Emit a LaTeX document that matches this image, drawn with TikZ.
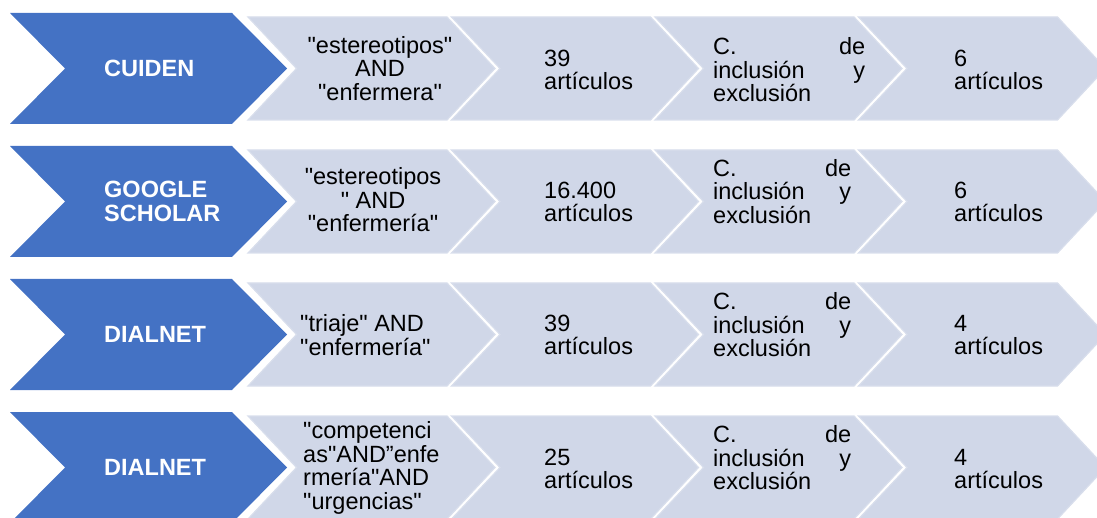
\documentclass[tikz,border=0pt]{standalone}
\usepackage{fontspec}
\newfontfamily\labelfont{Liberation Sans}
\usetikzlibrary{positioning}
\definecolor{srcblue}{HTML}{4472C4}
\definecolor{steplight}{HTML}{D0D7E8}
\definecolor{stepedge}{HTML}{D8DEEC}
\tikzset{src chevron/.style={fill=srcblue},
         step chevron/.style={fill=steplight,draw=stepedge,line width=1.2pt},
         src label/.style={anchor=west,inner sep=0pt,align=left,text=white,font=\labelfont\bfseries\fontsize{23.5}{23.5}\selectfont},
         step label/.style={anchor=west,inner sep=0pt,align=left,text=black,font=\labelfont\fontsize{23.5}{23.5}\selectfont},
         query label/.style={inner sep=0pt,align=center,text=black,font=\labelfont\fontsize{23.5}{23.5}\selectfont},
}
\begin{document}
\begin{tikzpicture}[x=1pt,y=-1pt]
\useasboundingbox (0,0) rectangle (1097,518);
\clip (0,0) rectangle (1097,518);
% \draw[help lines] (0,0) grid[step=50] (1097,518);
\foreach \r in {0,...,3}{
    \pgfmathsetmacro\yc{68.5+133*\r}
    \fill[src chevron] (10,\yc-55.5) -- ++(222,0) -- ++(55,55.5) -- ++(-55,55.5) -- ++(-222,0) -- ++(55,-55.5) -- cycle;
    \foreach \i in {0,...,3}{
        \pgfmathsetmacro\xl{248+203.5*\i}
        \filldraw[step chevron] (\xl,\yc-51.5) -- ++(199,0) -- ++(48,51.5) -- ++(-48,51.5) -- ++(-199,0) -- ++(48.5,-51.5) -- cycle;
    }
}
% row 1
\node[src label] (s1) at (104,68.5) {CUIDEN};
\node[query label] (q1) at (380,68.5) {"estereotipos"\\AND\\"enfermera"};
\node[step label] (n1) at (544,70) {39\\artículos};
\node[step label,text width=152pt] (c1) at (713,70) {C.\hfill de\\inclusión\hfill y\\exclusión};
\node[step label] (r1) at (954,70) {6\\artículos};
% row 2
\node[src label] (s2) at (104,201.5) {GOOGLE\\SCHOLAR};
\node[query label] (q2) at (373,200) {"estereotipos\\" AND\\"enfermería"};
\node[step label] (n2) at (544,202) {16.400\\artículos};
\node[step label,text width=138pt] (c2) at (713,191.5) {C.\hfill de\\inclusión\hfill y\\exclusión};
\node[step label] (r2) at (954,202) {6\\artículos};
% row 3
\node[src label] (s3) at (104,334.5) {DIALNET};
\node[step label] (q3) at (300,335) {"triaje" AND\\"enfermería"};
\node[step label] (n3) at (544,335) {39\\artículos};
\node[step label,text width=138pt] (c3) at (713,325) {C.\hfill de\\inclusión\hfill y\\exclusión};
\node[step label] (r3) at (954,335) {4\\artículos};
% row 4
\node[src label] (s4) at (104,467.5) {DIALNET};
\node[step label] (q4) at (303,468) {"competenci\\as"AND”enfe\\rmería"AND\\"urgencias"};
\node[step label] (n4) at (544,469) {25\\artículos};
\node[step label,text width=138pt] (c4) at (713,458) {C.\hfill de\\inclusión\hfill y\\exclusión};
\node[step label] (r4) at (954,469) {4\\artículos};
\end{tikzpicture}
\end{document}
